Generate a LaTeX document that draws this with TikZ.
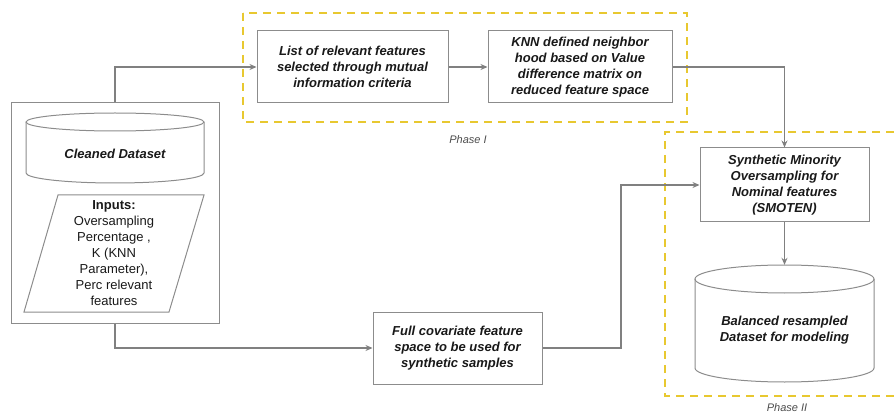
\documentclass[tikz,border=0pt]{standalone}
\usepackage{fontspec}
\setmainfont{Liberation Sans}
\usetikzlibrary{arrows.meta}
\definecolor{lnc}{RGB}{128,128,128}
\definecolor{boxc}{RGB}{140,140,140}
\definecolor{ylw}{RGB}{232,200,48}
\definecolor{txt}{RGB}{25,25,25}
\begin{document}
\begin{tikzpicture}[x=1pt,y=-1pt,
  box/.style={draw=boxc, line width=1pt, align=center, inner sep=0pt, text=txt,
    font=\fontsize{13}{16}\selectfont\bfseries\itshape},
  lbl/.style={align=center, inner sep=0pt, text=txt, font=\fontsize{13}{16}\selectfont\bfseries\itshape},
  plain/.style={align=center, inner sep=0pt, text=txt, font=\fontsize{13}{16}\selectfont},
  shape line/.style={draw=boxc, line width=1pt},
  conn/.style={draw=lnc, line width=1.4pt, -{Stealth[length=7pt,width=6pt]}},
  phasebox/.style={draw=ylw, line width=1.8pt, dash pattern=on 8pt off 6pt},
  phaselbl/.style={inner sep=0pt, text=black!70, font=\fontsize{11}{13}\selectfont\itshape},
]
\useasboundingbox (0,0) rectangle (894,414);

% phase frames
\draw[phasebox] (243,13) rectangle (687,122);
\draw[phasebox] (894,132) -- (665,132) -- (665,396) -- (894,396);
\node[phaselbl] (p1) at (468,140) {Phase I};
\node[phaselbl] (p2) at (787,408) {Phase II};

% left container
\node[box, minimum width=208pt, minimum height=220pt] (left) at (115,213) {};
% cleaned dataset cylinder
\draw[shape line] (115,122) ellipse[x radius=89, y radius=9];
\draw[shape line] (26,122) -- (26,173) arc[start angle=180, end angle=0, x radius=89, y radius=10] -- (204,122);
\node[lbl] (clean) at (115,154) {Cleaned Dataset};
% inputs parallelogram
\draw[shape line] (58,195) -- (204,195) -- (169,312) -- (24,312) -- cycle;
\node[plain] (inputs) at (114,253) {\textbf{Inputs:}\\Oversampling\\Percentage ,\\K (KNN\\Parameter),\\Perc relevant\\features};

% phase I boxes
\node[box, minimum width=191pt, minimum height=72pt] (b1) at (352.5,67)
  {List of relevant features\\selected through mutual\\information criteria};
\node[box, minimum width=184pt, minimum height=72pt] (b2) at (580,67)
  {KNN defined neighbor\\hood based on Value\\difference matrix on\\reduced feature space};

% full covariate
\node[box, minimum width=169pt, minimum height=72pt] (full) at (457.5,348)
  {Full covariate feature\\space to be used for\\synthetic samples};

% SMOTEN
\node[box, minimum width=169pt, minimum height=74pt] (smo) at (784.5,185)
  {Synthetic Minority\\Oversampling for\\Nominal features\\(SMOTEN)};

% balanced cylinder
\node[minimum width=179pt, minimum height=117pt, inner sep=0pt] (bal) at (784.5,323.5) {};
\draw[shape line] (784.5,279) ellipse[x radius=89.5, y radius=14];
\draw[shape line] (695,279) -- (695,368) arc[start angle=180, end angle=0, x radius=89.5, y radius=14] -- (874,279);
\node[lbl] (baltxt) at (784.5,330) {Balanced resampled\\Dataset for modeling};

% connectors
\coordinate (bend) at (621,0);
\draw[conn] (left.north) |- (b1.west);
\draw[conn] (b1.east) -- (b2.west);
\draw[conn] (b2.east) -| (smo.north);
\draw[conn] (smo.south) -- (bal.north);
\draw[conn] (left.south) |- (full.west);
\draw[conn] (full.east) -- (full.east -| bend) |- (smo.west);
\end{tikzpicture}
\end{document}
